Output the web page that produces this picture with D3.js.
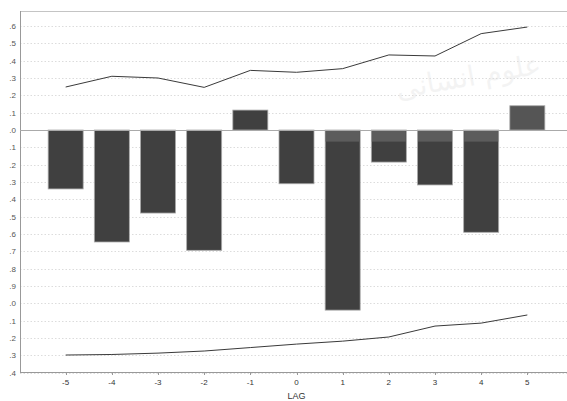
<!DOCTYPE html>
<html><head><meta charset="utf-8">
<script src="https://cdn.jsdelivr.net/npm/d3@7"></script>
<style>body{margin:0;background:#fff;}svg{display:block;font-family:Arial,"Liberation Sans",sans-serif;}</style>
</head><body>
<svg id="c" width="567" height="401"></svg>
<script>
const lags = [-5,-4,-3,-2,-1,0,1,2,3,4,5];
const ccf = [-0.34,-0.646,-0.479,-0.694,0.115,-0.31,-1.039,-0.185,-0.317,-0.59,0.14];
const upperLimit = [0.248,0.31,0.30,0.246,0.344,0.333,0.354,0.433,0.427,0.556,0.594];
const lowerLimit = [-1.298,-1.295,-1.287,-1.275,-1.255,-1.235,-1.218,-1.194,-1.131,-1.114,-1.067];
const highlight = [0,0,0,0,0,0,-0.067,-0.067,-0.067,-0.067,0];
const yTicks = [0.6,0.5,0.4,0.3,0.2,0.1,0,-0.1,-0.2,-0.3,-0.4,-0.5,-0.6,-0.7,-0.8,-0.9,-1.0,-1.1,-1.2,-1.3,-1.4];
const yTickLabels = [".6",".5",".4",".3",".2",".1",".0",".1",".2",".3",".4",".5",".6",".7",".8",".9",".0",".1",".2",".3",".4"];
const watermark = "علوم انسانی";

const svg = d3.select("#c");
const x = d3.scaleLinear().domain([-6,6]).range([19.5,573.5]);
const y = d3.scaleLinear().domain([0.6,-1.4]).range([26,372.7]);
const pLeft = 20, pRight = 567, pTop = 11, pBottom = 372;
const bw = 35;

// watermark
svg.append("text").attr("x",470).attr("y",86).attr("transform","rotate(-10,470,86)")
  .attr("text-anchor","middle").attr("font-family","'DejaVu Sans',sans-serif").attr("font-size",28)
  .attr("fill","#000").attr("opacity",0.045).text(watermark);

// grid
svg.append("g").selectAll("line").data(yTicks.filter(d=>d!==0)).join("line")
  .attr("x1",pLeft).attr("x2",pRight).attr("y1",d=>Math.round(y(d))+0.5).attr("y2",d=>Math.round(y(d))+0.5)
  .attr("stroke","#dcdcdc").attr("stroke-width",1).attr("stroke-dasharray","1.5,2");

// frame
svg.append("line").attr("x1",pLeft).attr("x2",pRight).attr("y1",pTop+0.5).attr("y2",pTop+0.5).attr("stroke","#c4c4c4");
svg.append("line").attr("x1",pLeft+0.5).attr("x2",pLeft+0.5).attr("y1",pTop).attr("y2",pBottom).attr("stroke","#999");
svg.append("line").attr("x1",pLeft).attr("x2",pRight).attr("y1",pBottom+0.5).attr("y2",pBottom+0.5).attr("stroke","#999");

// y labels
svg.append("g").selectAll("text").data(yTicks).join("text")
  .attr("x",16).attr("y",d=>y(d)+3).attr("text-anchor","end").attr("font-size",8).attr("fill","#555")
  .text((d,i)=>yTickLabels[i]);

// bars
const bars = lags.map((l,i)=>({lag:l,v:ccf[i],h:highlight[i]}));
svg.append("g").selectAll("rect").data(bars).join("rect")
  .attr("x",d=>x(d.lag)-bw/2).attr("width",bw)
  .attr("y",d=>y(Math.max(0,d.v))).attr("height",d=>Math.abs(y(d.v)-y(0)))
  .attr("fill",d=>d.lag===5?"#555":"#404040").attr("stroke","#aaa").attr("stroke-width",0.8);
svg.append("g").selectAll("rect").data(bars.filter(d=>d.h<0)).join("rect")
  .attr("x",d=>x(d.lag)-bw/2+0.5).attr("width",bw-1)
  .attr("y",y(0)).attr("height",d=>y(d.h)-y(0))
  .attr("fill","#5c5c5c");

// zero line
svg.append("line").attr("x1",pLeft).attr("x2",pRight).attr("y1",Math.round(y(0))+0.5).attr("y2",Math.round(y(0))+0.5)
  .attr("stroke","#aaa");

// confidence lines
const line = d3.line().x(d=>x(d[0])).y(d=>y(d[1]));
svg.append("path").datum(lags.map((l,i)=>[l,upperLimit[i]])).attr("d",line)
  .attr("fill","none").attr("stroke","#3a3a3a").attr("stroke-width",1);
svg.append("path").datum(lags.map((l,i)=>[l,lowerLimit[i]])).attr("d",line)
  .attr("fill","none").attr("stroke","#3a3a3a").attr("stroke-width",1);

// x axis ticks and labels
const xg = svg.append("g");
xg.selectAll("line").data(lags).join("line")
  .attr("x1",d=>Math.round(x(d))+0.5).attr("x2",d=>Math.round(x(d))+0.5).attr("y1",pBottom).attr("y2",pBottom+3)
  .attr("stroke","#999");
xg.selectAll("text").data(lags).join("text")
  .attr("x",d=>x(d)).attr("y",385).attr("text-anchor","middle").attr("font-size",8).attr("fill","#333")
  .text(d=>d);
svg.append("text").attr("x",x(0)).attr("y",399).attr("text-anchor","middle").attr("font-size",9).attr("fill","#333").text("LAG");
</script>
</body></html>
